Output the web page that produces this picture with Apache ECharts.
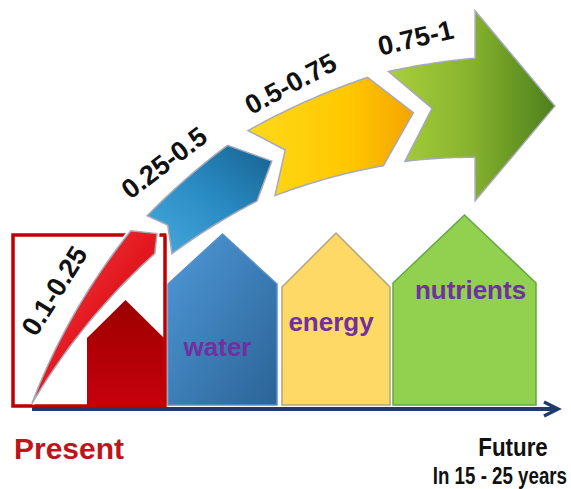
<!DOCTYPE html>
<html><head><meta charset="utf-8">
<script src="https://cdn.jsdelivr.net/npm/echarts@6/dist/echarts.min.js"></script>
<style>html,body{margin:0;padding:0;background:#fff}#c{width:571px;height:489px}</style>
</head><body><div id="c"></div>
<script>
// ---------- data ----------
const houseNames = ['', 'water', 'energy', 'nutrients'];
const houseFrom  = [87, 168, 282, 393];
const houseTo    = [164, 277, 390, 536];
const wallHeight = [67, 121, 118, 122];
const roofHeight = [105, 171, 172, 190];
const stageLabels = ['0.1-0.25', '0.25-0.5', '0.5-0.75', '0.75-1'];
const presentBox = [13, 165, 170];
const timeline = [32, 558];
const timeLabels = ['Present', 'Future', 'In 15 - 25 years'];

// ---------- styles / geometry ----------
const FONT = '"Liberation Sans", Arial, sans-serif';
const arcCenter = [567, -333];
const arrowShapes = [
  [[148,631,1],[130.7,669,0],[129.1,650,0],[130.4,636,1]],
  [[128.8,670,1],[119.8,683,0],[117.1,648,0],[120,620,1],[129.2,625,0],[127.9,650,0]],
  [[117.7,686,1],[106.8,690,0],[103.8,644,0],[107.8,601,1],[118.3,616,0],[115.6,652,0]],
  [[105,690,1],[97.7,686,0],[97.2,733,0],[91.1,632,0],[99.7,545,0],[99,588,1],[105.7,599,0],[102.1,644,0]]
];
const arrowFills = [
  {type:'linear',x:0,y:0,x2:1,y2:1,colorStops:[{offset:0,color:'#f24a4a'},{offset:0.5,color:'#e3181f'},{offset:1,color:'#c80d16'}]},
  {type:'linear',x:0,y:1,x2:1,y2:0,colorStops:[{offset:0,color:'#49aadd'},{offset:0.5,color:'#2a8cc4'},{offset:1,color:'#17628f'}]},
  {type:'linear',x:0,y:0,x2:1,y2:0,colorStops:[{offset:0,color:'#ffd91a'},{offset:0.6,color:'#ffc800'},{offset:1,color:'#f3a400'}]},
  {type:'linear',x:0,y:0,x2:1,y2:0,colorStops:[{offset:0,color:'#a9d03c'},{offset:0.5,color:'#86b22d'},{offset:1,color:'#4c801c'}]}
];
const labelPolar = [[138.9,680,58],[125.0,702,37],[112.9,710,28],[102.2,716,13.5]];
const houseFills = [
  {type:'linear',x:0,y:0,x2:0,y2:1,colorStops:[{offset:0,color:'#9c0000'},{offset:1,color:'#c6000c'}]},
  {type:'linear',x:0,y:0,x2:1,y2:1,colorStops:[{offset:0,color:'#4f99d8'},{offset:1,color:'#2b6396'}]},
  '#ffd966',
  '#92d050'
];
const houseStrokes = [null, '#5b8fc4', '#b3a57a', '#62a844'];
const houseLabelLift = [0, 58, 83, 115];
const houseLabelShift = [0, -5, -5, 6];

function polar(t, r) {
  const a = t * Math.PI / 180;
  return [arcCenter[0] + r * Math.cos(a), arcCenter[1] + r * Math.sin(a)];
}
function shapePoints(shape, api) {
  const pts = [];
  for (let k = 0; k < shape.length; k++) {
    const A = shape[k], B = shape[(k + 1) % shape.length];
    if (A[2]) {
      const N = 20;
      for (let s = 0; s < N; s++) {
        const f = s / N;
        pts.push(api.coord(polar(A[0] + (B[0] - A[0]) * f, A[1] + (B[1] - A[1]) * f)));
      }
    } else {
      pts.push(api.coord(polar(A[0], A[1])));
    }
  }
  return pts;
}

const chart = echarts.init(document.getElementById('c'), null, {renderer: 'svg'});
chart.setOption({
  animation: false,
  grid: {left: 0, right: 0, top: 0, bottom: 0},
  xAxis: {type: 'value', min: 0, max: 571, show: false},
  yAxis: {type: 'value', min: -84, max: 405, show: false},
  series: [
    {
      type: 'custom', name: 'houses', z: 2,
      data: houseNames.map((n, i) => [houseFrom[i], houseTo[i], wallHeight[i], roofHeight[i]]),
      renderItem(params, api) {
        const i = params.dataIndex;
        const x0 = api.value(0), x1 = api.value(1), wh = api.value(2), rh = api.value(3);
        const mid = (x0 + x1) / 2;
        const pts = [api.coord([x0, 0]), api.coord([x0, wh]), api.coord([mid, rh]), api.coord([x1, wh]), api.coord([x1, 0])];
        const children = [{type: 'polygon', shape: {points: pts},
          style: {fill: houseFills[i], stroke: houseStrokes[i] || 'none', lineWidth: houseStrokes[i] ? 1.5 : 0}}];
        if (houseNames[i]) {
          const p = api.coord([mid + houseLabelShift[i], houseLabelLift[i]]);
          children.push({type: 'text', x: p[0], y: p[1],
            style: {text: houseNames[i], fill: '#7030a0', font: 'bold 26px ' + FONT, align: 'center', verticalAlign: 'middle'}});
        }
        return {type: 'group', children};
      }
    },
    {
      type: 'custom', name: 'present', z: 3,
      data: [presentBox],
      renderItem(params, api) {
        const a = api.coord([api.value(0), api.value(2)]);
        const b = api.coord([api.value(1), -1]);
        return {type: 'rect', shape: {x: a[0], y: a[1], width: b[0] - a[0], height: b[1] - a[1]},
          style: {fill: 'none', stroke: '#c00000', lineWidth: 3.5}};
      }
    },
    {
      type: 'custom', name: 'timeline', z: 3,
      data: [timeline],
      renderItem(params, api) {
        const a = api.coord([api.value(0), -4]);
        const b = api.coord([api.value(1), -4]);
        return {type: 'group', children: [
          {type: 'line', shape: {x1: a[0], y1: a[1], x2: b[0] - 2, y2: b[1]}, style: {stroke: '#1f3a6e', lineWidth: 4}},
          {type: 'polyline', shape: {points: [[b[0] - 14, b[1] - 7], [b[0], b[1]], [b[0] - 14, b[1] + 7]]},
            style: {stroke: '#1f3a6e', lineWidth: 3.5, fill: 'none', lineJoin: 'miter'}}
        ]};
      }
    },
    {
      type: 'custom', name: 'stages', z: 4,
      data: stageLabels.map((l, i) => [i]),
      renderItem(params, api) {
        const i = params.dataIndex;
        const pts = shapePoints(arrowShapes[i], api);
        const lp = labelPolar[i];
        const c = api.coord(polar(lp[0], lp[1]));
        return {type: 'group', children: [
          {type: 'polygon', shape: {points: pts}, style: {fill: arrowFills[i], stroke: '#ffffff', lineWidth: 5}},
          {type: 'polygon', shape: {points: pts}, style: {fill: arrowFills[i], stroke: '#a7a9ba', lineWidth: 1.5}},
          {type: 'text', x: c[0], y: c[1], rotation: lp[2] * Math.PI / 180,
            style: {text: stageLabels[i], fill: '#111', font: 'bold 27px ' + FONT, align: 'center', verticalAlign: 'middle'}}
        ]};
      }
    }
  ],
  graphic: [
    {type: 'text', x: 14, y: 448, style: {text: timeLabels[0], fill: '#c0141c', font: 'bold 30px ' + FONT, verticalAlign: 'middle'}},
    {type: 'text', x: 513, y: 447, scaleX: 0.86, style: {text: timeLabels[1], fill: '#111', font: 'bold 26px ' + FONT, align: 'center', verticalAlign: 'middle'}},
    {type: 'text', x: 567, y: 476, scaleX: 0.78, style: {text: timeLabels[2], fill: '#111', font: 'bold 24px ' + FONT, align: 'right', verticalAlign: 'middle'}}
  ]
});
</script></body></html>
